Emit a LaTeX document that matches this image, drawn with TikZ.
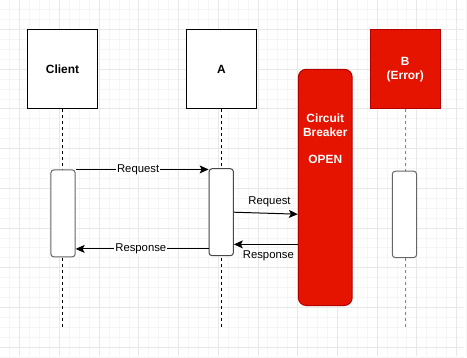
\documentclass[tikz,border=0pt]{standalone}
\usepackage{fontspec}
\setmainfont{Liberation Sans}
\usetikzlibrary{positioning,arrows.meta}
\definecolor{drawred}{HTML}{E51400}
\definecolor{drawredline}{HTML}{B20000}
\definecolor{gridminor}{HTML}{F5F5F5}
\definecolor{gridmajor}{HTML}{E8E8E8}
\definecolor{actgray}{HTML}{666666}
\tikzset{node distance=1cm}

\begin{document}
\begin{tikzpicture}[
  x=1pt, y=-1pt,
  actor/.style={draw, line width=1pt, fill=white, minimum width=70.4pt,
    minimum height=80pt, align=center,
    font=\fontsize{12}{14.3}\selectfont\bfseries},
  errbox/.style={draw=drawredline, fill=drawred, text=white},
  cbbox/.style={draw=drawredline, fill=drawred, line width=1pt,
    rounded corners=8pt, minimum width=54.3pt, minimum height=238pt},
  cbtext/.style={text=white, align=center, inner sep=0pt,
    font=\fontsize{12}{13.7}\selectfont\bfseries},
  lifeline/.style={line width=1pt, dash pattern=on 3pt off 3pt},
  act/.style={draw=actgray, fill=white, line width=1pt, rounded corners=3pt,
    minimum width=24.5pt, minimum height=87.6pt, inner sep=0pt},
  msg/.style={line width=1pt, -{Stealth[length=9pt,width=8pt,inset=2pt]}},
  msglabel/.style={font=\fontsize{11.4}{13}\selectfont, inner sep=1pt}
]
% grid
\foreach \gx in {9.5,19.5,...,469.5}
  \draw[gridminor, line width=1pt] (\gx,0) -- (\gx,358);
\foreach \gy in {9.3,19.3,...,359.3}
  \draw[gridminor, line width=1pt] (0,\gy) -- (467,\gy);
\foreach \gx in {19.5,59.5,...,459.5}
  \draw[gridmajor, line width=1pt] (\gx,0) -- (\gx,358);
\foreach \gy in {29.3,69.3,...,349.3}
  \draw[gridmajor, line width=1pt] (0,\gy) -- (467,\gy);
\useasboundingbox (0,0) rectangle (467,358);

% participants
\node[actor] (client) at (62.5,69.3) {Client};
\node[actor] (a) at (222.5,69.3) {A};
\node[actor, errbox] (b) at (407.8,69.3) {B\\(Error)};
\node[cbbox] (cb) at (327.2,188.3) {};
\node[cbtext] (cbtext) at (327.2,139.5) {Circuit\\Breaker\\[13.7pt]OPEN};

% lifelines
\coordinate (clientEnd) at (62.5,329);
\coordinate (aEnd) at (222.5,329);
\coordinate (bEnd) at (408.3,329);
\draw[lifeline] (client.south) -- (clientEnd);
\draw[lifeline] (a.south) -- (aEnd);
\draw[lifeline, actgray!80] (b.south -| bEnd) -- (bEnd);

% activations
\node[act] (actClient) at (63,214.5) {};
\node[act, draw=actgray!70!black] (actA) at (222.4,213.3) {};
\node[act, minimum height=87pt] (actB) at (407,215.5) {};

% messages
\draw[msg] (actClient.north east) -- (actClient.north east -| actA.west)
  node[msglabel, pos=0.47, fill=white] {Request};
\coordinate (resp1) at ([yshift=7.3pt]actA.south west);
\draw[msg] (resp1) -- (resp1 -| actClient.east)
  node[msglabel, pos=0.51, fill=white] {Response};
\path (actA.east -| cb.west) ++(0,2) coordinate (req2end);
\draw[msg] (actA.east) -- (req2end)
  node[msglabel, midway, above=5pt, xshift=3.7pt] {Request};
\path (actA.east -| cb.west) ++(0,32.4) coordinate (resp2start);
\draw[msg] (resp2start) -- (resp2start -| actA.east)
  node[msglabel, midway, below=5pt, xshift=2.5pt] {Response};
\end{tikzpicture}
\end{document}
